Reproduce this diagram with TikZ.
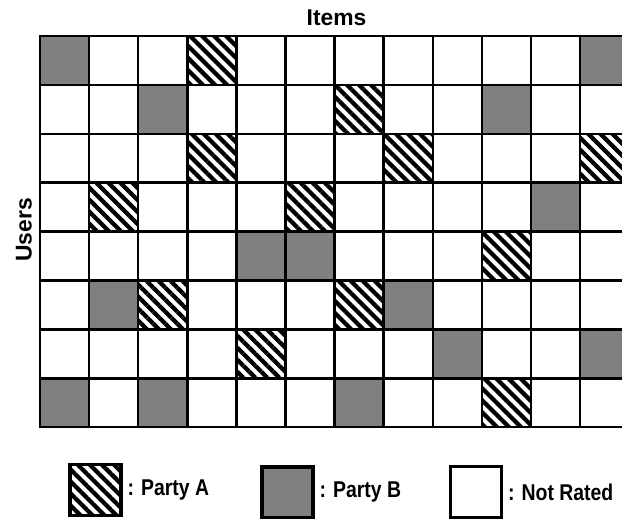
\documentclass[tikz,border=0pt]{standalone}
\usepackage{fontspec}
\setmainfont{Liberation Sans}
\newfontfamily\keyfont{Liberation Sans}[FakeStretch=0.85]
\usetikzlibrary{patterns.meta,positioning}
\definecolor{rbgray}{RGB}{128,128,128}

\begin{document}
\begin{tikzpicture}[x=0.02cm,y=-0.02cm,font=\fontsize{13}{16}\selectfont\bfseries,
    partya/.style={pattern={Lines[angle=-45,distance=0.17cm,line width=0.085cm]}},
    partyb/.style={fill=rbgray},
    gridline/.style={line width=1.4pt},
    keybox/.style={draw,line width=1.9pt,minimum width=1.02cm,minimum height=1.02cm,inner sep=0pt},
    keytext/.style={font=\keyfont\fontsize{13}{15}\selectfont\bfseries,inner sep=0pt}]
  \useasboundingbox (0,0) rectangle (622,519);
  \begin{scope}
    \clip (0,0) rectangle (622,519);
    % rated cells, row/column from top left
    \foreach \r/\c in {0/3,1/6,2/3,2/7,2/11,3/1,3/5,4/9,5/2,5/6,6/4,7/9}
      \fill[partya] ({40+49.1*\c},{36+48.9*\r}) rectangle ++(49.1,48.9);
    \foreach \r/\c in {0/0,0/11,1/2,1/9,3/10,4/4,4/5,5/1,5/7,6/8,6/11,7/0,7/2,7/6}
      \fill[partyb] ({40+49.1*\c},{36+48.9*\r}) rectangle ++(49.1,48.9);
    % grid
    \foreach \c in {1,...,11}
      \draw[gridline] ({40+49.1*\c},36) -- ({40+49.1*\c},427);
    \foreach \r in {1,...,7}
      \draw[gridline] (40,{36+48.9*\r}) -- (629,{36+48.9*\r});
    \draw[gridline] (40,36) rectangle (629,427);
  \end{scope}
  \node (items) at (336.5,18) {Items};
  \node[rotate=90] (users) at (24,230) {Users};
  % legend
  \node[keybox,partya] (keya) at (95.5,490) {};
  \node[keybox,partyb] (keyb) at (287.5,492.5) {};
  \node[keybox] (keyn) at (476,492) {};
  \node[keytext,right=0.9mm of keya] (texta) {: Party A};
  \node[keytext,right=0.9mm of keyb] (textb) {: Party B};
  \node[keytext,right=0.9mm of keyn] (textn) {: Not Rated};
\end{tikzpicture}
\end{document}
